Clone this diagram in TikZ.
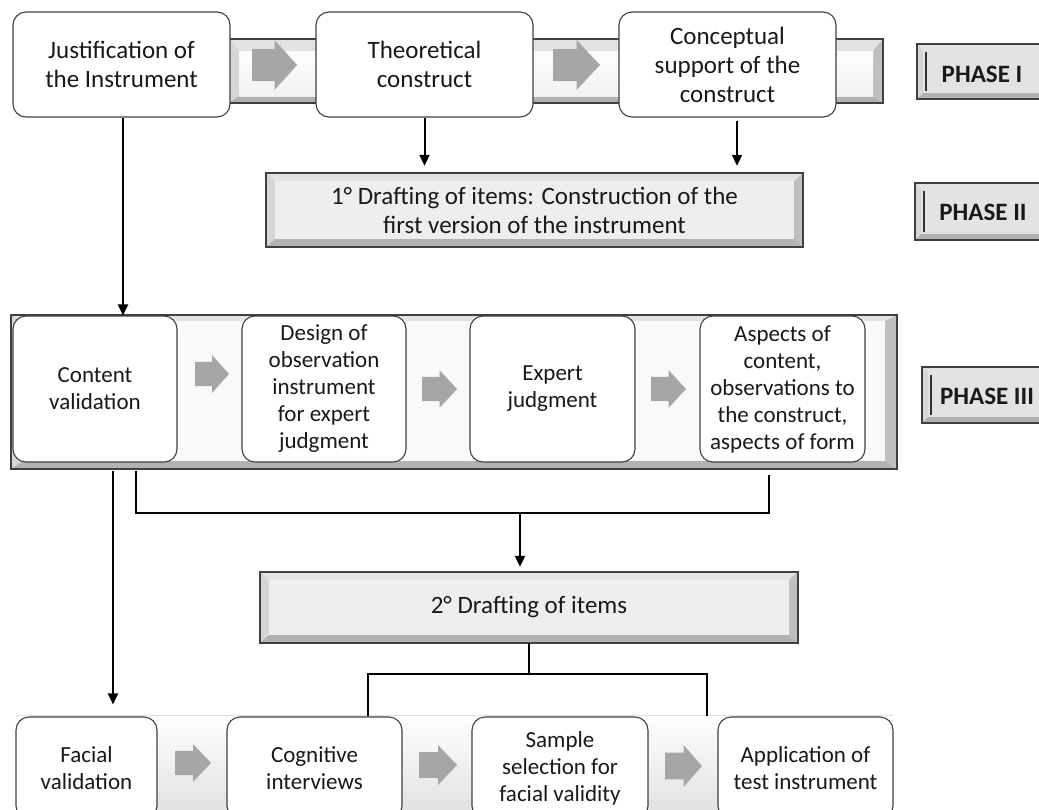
\documentclass[tikz,border=0pt]{standalone}
\usepackage{fontspec}
\setmainfont{Carlito}
\usetikzlibrary{arrows.meta,calc}

\definecolor{arrowgray}{HTML}{A6A6A6}
\definecolor{boxborder}{HTML}{404040}

% x0 y0 x1 y1 top side bottom face-style
\newcommand{\bevelbox}[8]{%
  \fill[bvtop] (#1,#2) -- (#3,#2) -- ({#3-#6},{#2+#5}) -- ({#1+#6},{#2+#5}) -- cycle;
  \fill[bvleft] (#1,#2) -- ({#1+#6},{#2+#5}) -- ({#1+#6},{#4-#7}) -- (#1,#4) -- cycle;
  \fill[bvright] (#3,#2) -- ({#3-#6},{#2+#5}) -- ({#3-#6},{#4-#7}) -- (#3,#4) -- cycle;
  \fill[bvbottom] (#1,#4) -- ({#1+#6},{#4-#7}) -- ({#3-#6},{#4-#7}) -- (#3,#4) -- cycle;
  \path[#8] ({#1+#6},{#2+#5}) rectangle ({#3-#6},{#4-#7});
  \draw[bvborder] (#1,#2) rectangle (#3,#4);
}
% xl yc len h
\newcommand{\blockarrow}[4]{%
  \fill[arrowgray] (#1,{#2-0.32*#4}) -- ({#1+0.5*#3},{#2-0.32*#4}) -- ({#1+0.5*#3},{#2-0.5*#4})
    -- ({#1+#3},#2) -- ({#1+0.5*#3},{#2+0.5*#4}) -- ({#1+0.5*#3},{#2+0.32*#4}) -- (#1,{#2+0.32*#4}) -- cycle;
}

\tikzset{
  bvtop/.style={fill=gray!22},
  bvleft/.style={fill=gray!32},
  bvright/.style={fill=gray!50},
  bvbottom/.style={fill=gray!60},
  bvborder/.style={draw=black!75, line width=1.3pt},
  box/.style={draw=boxborder, fill=white, rounded corners=13pt, line width=1.1pt,
    align=center, inner sep=0pt, text=black!90},
  big/.style={font=\fontsize{25}{29}\selectfont},
  mid/.style={font=\fontsize{23}{27}\selectfont},
  phase/.style={font=\bfseries\fontsize{25}{29}\selectfont, text=black!90},
  conn/.style={line width=2pt, black},
  tip/.style={-{Triangle[length=11pt,width=10pt]}},
}

\begin{document}
\begin{tikzpicture}[x=1pt,y=-1pt]
\useasboundingbox (0,0) rectangle (1039,809);
\clip (0,0) rectangle (1039,809);

% ---------- backgrounds ----------
\bevelbox{229}{39}{883}{103}{12}{10}{7}{top color=gray!2, bottom color=gray!10}
\bevelbox{11}{315}{897}{469}{6}{12}{8}{fill=gray!5}
\fill[top color=white, bottom color=gray!30] (16,715) rectangle (893,840);
\draw[gray!25, line width=0.8pt] (16,715) -- (893,715);

% drafting boxes
\bevelbox{266}{173}{803}{247}{8}{9}{8}{fill=gray!13}
\bevelbox{260}{572}{798}{643}{8}{9}{8}{fill=gray!13}

% phase labels
\bevelbox{917}{44}{1060}{99}{6}{6}{6}{fill=gray!22}
\bevelbox{915}{183}{1060}{240}{6}{6}{6}{fill=gray!22}
\bevelbox{922}{367}{1060}{423}{6}{6}{6}{fill=gray!22}
\draw[black!80, line width=1.3pt] (926,52) -- (926,91);
\draw[black!80, line width=1.3pt] (924,191) -- (924,232);
\draw[black!80, line width=1.3pt] (931,375) -- (931,415);

% ---------- block arrows ----------
\blockarrow{252}{65}{45}{50}
\blockarrow{553}{65}{47}{50}
\blockarrow{195}{374}{34}{38}
\blockarrow{422}{389}{35}{38}
\blockarrow{651}{389}{35}{38}
\blockarrow{175}{763}{36}{38}
\blockarrow{419}{765}{38}{40}
\blockarrow{665}{766}{37}{42}

% ---------- nodes ----------
\node[box, big, minimum width=217pt, minimum height=105pt] (just) at (121.5,64.5) {Justification of\\the Instrument};
\node[box, big, minimum width=217pt, minimum height=105pt] (theo) at (424.5,64.5) {Theoretical\\construct};
\node[box, big, minimum width=217pt, minimum height=105pt] (conc) at (727.5,64.5) {Conceptual\\support of the\\construct};

\node[big, align=center, text=black!90, minimum width=537pt, minimum height=74pt, inner sep=0pt] (d1) at (534.5,210) {1° Drafting of items: Construction of the\\first version of the instrument};

\node[box, mid, minimum width=164pt, minimum height=146pt] (cv) at (95,389) {Content\\validation};
\node[box, mid, minimum width=164pt, minimum height=146pt] (des) at (324,389) {Design of\\observation\\instrument\\for expert\\judgment};
\node[box, mid, minimum width=165pt, minimum height=146pt] (exp) at (552.5,389) {Expert\\judgment};
\node[box, mid, minimum width=165pt, minimum height=146pt] (asp) at (782.5,389) {Aspects of\\content,\\observations to\\the construct,\\aspects of form};

\node[big, align=center, text=black!90, minimum width=538pt, minimum height=71pt, inner sep=0pt] (d2) at (529,607.5) {2° Drafting of items};

\node[box, mid, minimum width=141pt, minimum height=102pt] (fac) at (86.5,768) {Facial\\validation};
\node[box, mid, minimum width=175pt, minimum height=102pt] (cog) at (314.5,768) {Cognitive\\interviews};
\node[box, mid, minimum width=176pt, minimum height=102pt] (sam) at (560,768) {Sample\\selection for\\facial validity};
\node[box, mid, minimum width=175pt, minimum height=102pt] (app) at (805.5,768) {Application of\\test instrument};

\node[phase] (p1) at (982,74) {PHASE I};
\node[phase] (p2) at (983,212) {PHASE II};
\node[phase] (p3) at (987,396) {PHASE III};

% ---------- connectors ----------
\coordinate (jout) at ($(just.south)+(1.5,0)$);
\draw[conn,tip] (jout) -- (jout |- cv.north);

\draw[conn,tip,shorten >=7pt] (theo.south) -- (theo.south |- d1.north);
\coordinate (cs) at ($(conc.south)+(9.5,3)$);
\draw[conn,tip,shorten >=7pt] (cs) -- (cs |- d1.north);

\coordinate (cvout) at ($(cv.south)+(18,8)$);
\draw[conn,tip,shorten >=12pt] (cvout) -- (cvout |- fac.north);

\coordinate (bl) at ($(cv.south)+(41,8)$);
\coordinate (br) at ($(asp.south)+(-13.5,12)$);
\draw[conn] (bl) -- ++(0,42) -| (br);
\coordinate (bm) at (520,512);
\draw[conn,tip,shorten >=5pt] (bm) -- (bm |- d2.north);

\coordinate (dj) at ($(d2.south)+(0,32)$);
\draw[conn] (d2.south) -- (dj);
\coordinate (cl) at ($(cog.north)+(53.5,-42)$);
\coordinate (cr) at ($(sam.north)+(147,-42)$);
\draw[conn] (cog.north -| cl) -- (cl) -- (cr) -- (cr |- cog.north);
\end{tikzpicture}
\end{document}
